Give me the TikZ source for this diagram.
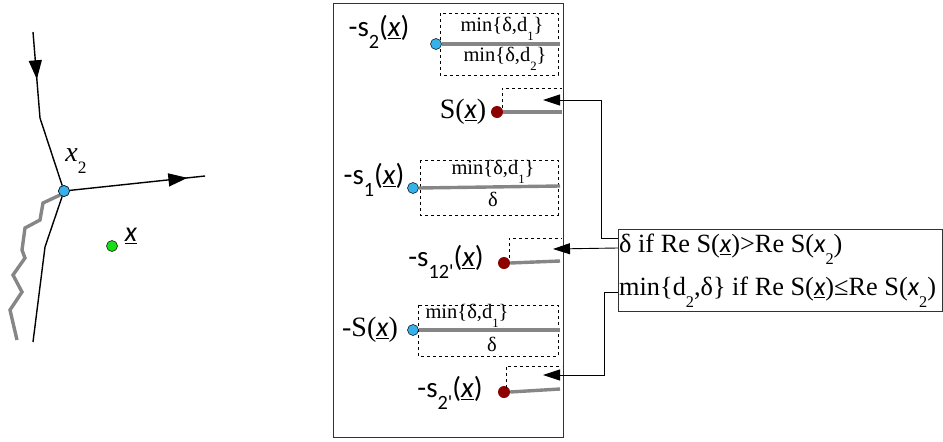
\documentclass[tikz,border=0pt]{standalone}
\usepackage{fontspec}
\setmainfont{Liberation Serif}
\newfontfamily\carl{Carlito}
\usetikzlibrary{arrows.meta,decorations.markings}
\newcommand\lsub[1]{\raisebox{-0.45em}{\scalebox{0.62}{#1}}}
\newcommand\bsub[1]{\raisebox{-0.42em}{\scalebox{0.7}{#1}}}
\newcommand\ux{\underline{{\carl\itshape x}}}
\newcommand\ix{{\carl\itshape x}}
\begin{document}
\begin{tikzpicture}[x=1pt,y=-1pt,
  midarrow/.style={postaction={decorate},decoration={markings,
    mark=at position #1 with {\arrow{Triangle[length=19pt,width=13pt]}}}},
  curve/.style={line width=1.4pt,black},
  cut/.style={line width=3.4pt,draw=gray!95},
  bdot/.style={circle,draw=black,line width=0.5pt,fill=cyan!90!blue!80,inner sep=0pt,minimum size=11pt},
  rdot/.style={circle,fill=red!55!black,inner sep=0pt,minimum size=12pt},
  gdot/.style={circle,draw=black,line width=0.5pt,fill=green!85!black!90,inner sep=0pt,minimum size=11pt},
  dbox/.style={dashed,line width=0.8pt},
  big/.style={font=\carl\fontsize{29}{32}\selectfont,inner sep=0pt},
  bigger/.style={font=\fontsize{28}{30}\selectfont,inner sep=0pt},
  small/.style={font=\fontsize{20.5}{22}\selectfont,inner sep=0pt},
  cond/.style={font=\fontsize{26.3}{28}\selectfont,inner sep=0pt,anchor=west},
  conn/.style={line width=0.9pt,-{Triangle[length=17pt,width=11pt]}},
  frame/.style={draw=black!80,line width=1pt}
]
\useasboundingbox (0,0) rectangle (943,442);

% ---------- left sketch ----------
\node[bdot] (x2) at (64,191) {};
\coordinate (ua) at (33,32);
\coordinate (ub) at (40,118);
\coordinate (re) at (205,176);
\coordinate (la) at (45,247);
\coordinate (lb) at (33,342);
\draw[cut] (x2.south west) -- (43,203) -- (40,220) -- (25,228) -- (22,250) -- (25,258)
  -- (13,275) -- (22,292) -- (10,310) -- (17,340);
\draw[curve,midarrow=0.55] (ua) -- (ub);
\draw[curve] (ub) -- (x2);
\draw[curve,midarrow=0.87] (x2) -- (re);
\draw[curve] (x2) -- (la) -- (lb);
\node[bdot] at (64,191) {};
\node[gdot] (xp) at (112,246) {};
\node[font=\fontsize{28}{30}\selectfont,inner sep=0pt] (x2lab) at (76,161) {\textit{x}\lsub{2}};
\node[font=\fontsize{28}{30}\selectfont,inner sep=0pt] (xlab) at (131,236) {\ux};

% ---------- main frame ----------
\draw[frame] (333,3) rectangle (563,437);

% row 1
\node[big] (l1) at (379,32) {-s\bsub{2}(\ux)};
\draw[dbox] (440,13) rectangle (558,75);
\node[bdot] (d1) at (436,44) {};
\draw[cut] (d1.east) -- (560,44);
\node[small] at (502,29) {min\{δ,d\lsub{1}\}};
\node[small] at (505,59) {min\{δ,d\lsub{2}\}};

% row 2
\node[bigger] (l2) at (463,112) {S(\ux)};
\node[rdot] (d2) at (497,112) {};
\draw[cut] (d2.east) -- (562,112);
\draw[dbox] (502,108) -- (502,88) -- (562,88);
\coordinate (t2) at (543,100);

% row 3
\node[big] (l3) at (374,180) {-s\bsub{1}(\ux)};
\draw[dbox] (420,160) rectangle (558,215);
\node[bdot] (d3) at (413,188) {};
\draw[cut] (d3.east) -- (560,186);
\node[small] at (493,172) {min\{δ,d\lsub{1}\}};
\node[small] at (493,199) {δ};

% row 4
\node[big] (l4) at (446,262) {-s\bsub{12'}(\ux)};
\node[rdot] (d4) at (504,263) {};
\draw[cut] (d4.east) -- (560,261);
\draw[dbox] (509,258) -- (509,238) -- (562,238);
\coordinate (t4) at (553,249);

% row 5
\node[bigger] (l5) at (370,330) {-S(\ux)};
\draw[dbox] (418,305) rectangle (558,356);
\node[bdot] (d5) at (413,330) {};
\draw[cut] (d5.east) -- (560,330);
\node[small] at (467,316) {min\{δ,d\lsub{1}\}};
\node[small] at (492,344) {δ};

% row 6
\node[big] (l6) at (450,393) {-s\bsub{2'}(\ux)};
\node[rdot] (d6) at (504,392) {};
\draw[cut] (d6.east) -- (560,389);
\draw[dbox] (506,388) -- (506,366) -- (562,366);
\coordinate (t6) at (543,375);

% ---------- condition box ----------
\draw[frame] (618,229) rectangle (942,311);
\node[cond] (c1) at (619,249) {δ if Re S(\ux)>Re S(\ix\lsub{2})};
\node[cond] (c2) at (619,292) {min\{d\lsub{2},δ\} if Re S(\ux)≤Re S(\ix\lsub{2})};
\coordinate (s1) at (618,238);
\coordinate (s2) at (618,248);
\coordinate (s3) at (618,292);

\draw[conn] (s1) -- (601,238) -- (601,100) -- (t2);
\draw[conn] (s2) -- (t4);
\draw[conn] (s3) -- (604,292) -- (604,375) -- (t6);
\end{tikzpicture}
\end{document}
